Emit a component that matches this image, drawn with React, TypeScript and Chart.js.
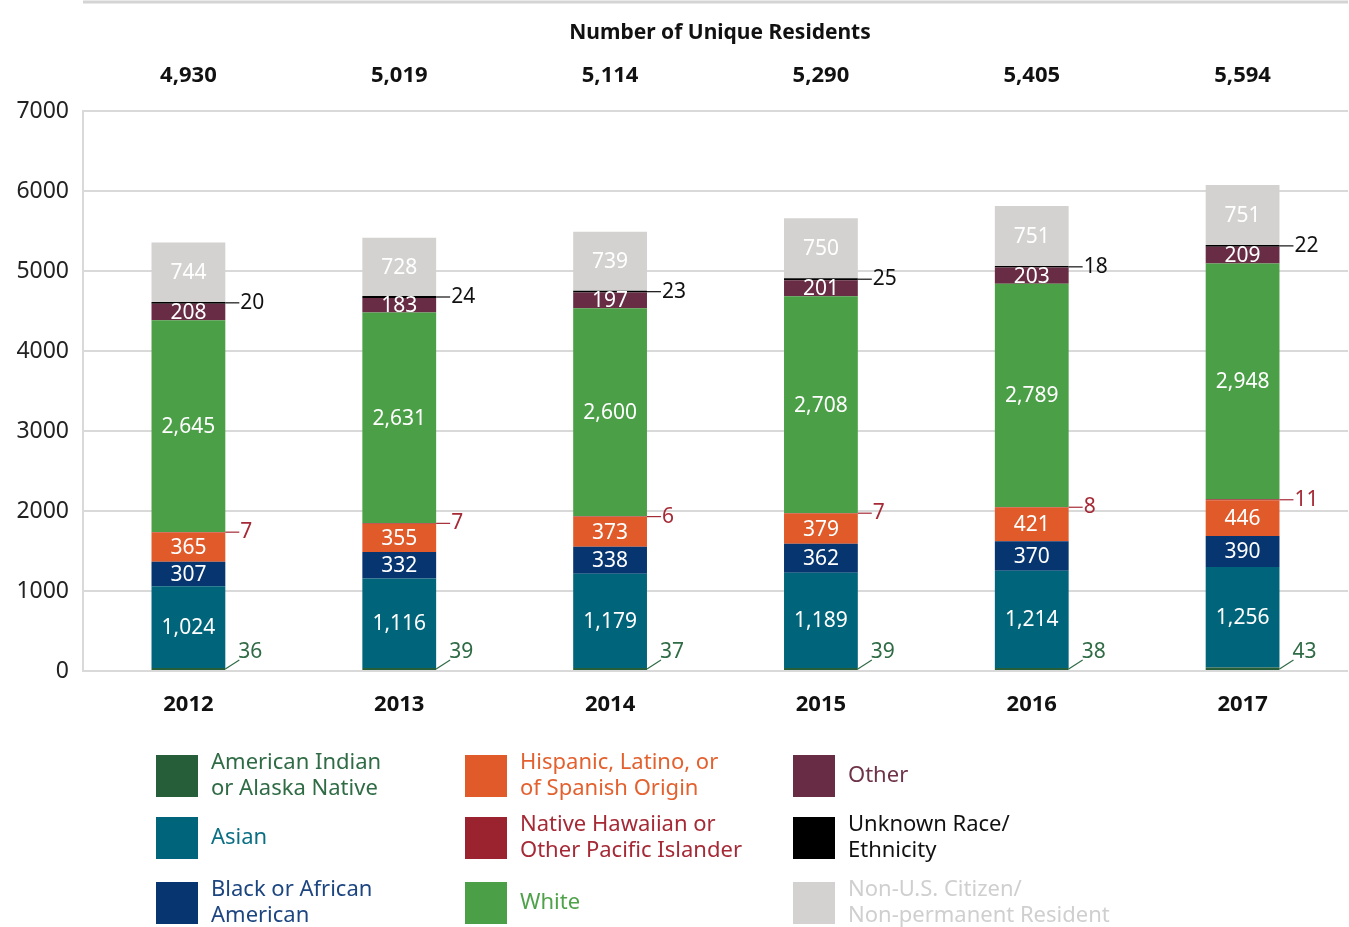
import React, { useEffect, useRef } from "react";
import { Chart, registerables } from "chart.js";
Chart.register(...registerables);

const years = ["2012", "2013", "2014", "2015", "2016", "2017"];
const totals = ["4,930", "5,019", "5,114", "5,290", "5,405", "5,594"];
const aian = [36, 39, 37, 39, 38, 43];
const asian = [1024, 1116, 1179, 1189, 1214, 1256];
const black = [307, 332, 338, 362, 370, 390];
const hispanic = [365, 355, 373, 379, 421, 446];
const nhpi = [7, 7, 6, 7, 8, 11];
const white = [2645, 2631, 2600, 2708, 2789, 2948];
const other = [208, 183, 197, 201, 203, 209];
const unknown = [20, 24, 23, 25, 18, 22];
const nonUS = [744, 728, 739, 750, 751, 751];
const title = "Number of Unique Residents";

const FONT = '"Noto Sans", sans-serif';

type Series = {
  label: string[];
  values: number[];
  color: string;
  text: string;
  mode: "inside" | "diag" | "side";
  col: number;
  row: number;
};

const series: Series[] = [
  { label: ["American Indian", "or Alaska Native"], values: aian, color: "#275e3a", text: "#2f6b45", mode: "diag", col: 0, row: 0 },
  { label: ["Asian"], values: asian, color: "#00657a", text: "#0b6f84", mode: "inside", col: 0, row: 1 },
  { label: ["Black or African", "American"], values: black, color: "#06356f", text: "#1d4680", mode: "inside", col: 0, row: 2 },
  { label: ["Hispanic, Latino, or", "of Spanish Origin"], values: hispanic, color: "#e05a2a", text: "#e2612f", mode: "inside", col: 1, row: 0 },
  { label: ["Native Hawaiian or", "Other Pacific Islander"], values: nhpi, color: "#9a232f", text: "#a52a36", mode: "side", col: 1, row: 1 },
  { label: ["White"], values: white, color: "#4b9f46", text: "#4fa24a", mode: "inside", col: 1, row: 2 },
  { label: ["Other"], values: other, color: "#682c44", text: "#6e3249", mode: "inside", col: 2, row: 0 },
  { label: ["Unknown Race/", "Ethnicity"], values: unknown, color: "#000000", text: "#111111", mode: "side", col: 2, row: 1 },
  { label: ["Non-U.S. Citizen/", "Non-permanent Resident"], values: nonUS, color: "#d3d2d0", text: "#cfcfcf", mode: "inside", col: 2, row: 2 },
];

const legendCols = [156, 465, 793];
const legendRows = [755, 817, 882];

const fmt = (v: number) => v.toLocaleString("en-US");

const overlay = {
  id: "overlay",
  beforeDraw(chart: any) {
    const ctx = chart.ctx;
    ctx.save();
    ctx.strokeStyle = "#d4d4d4";
    ctx.lineWidth = 3;
    ctx.beginPath();
    ctx.moveTo(chart.chartArea.left, 2);
    ctx.lineTo(chart.chartArea.right, 2);
    ctx.stroke();
    ctx.restore();
  },
  afterDatasetsDraw(chart: any) {
    const ctx = chart.ctx;
    ctx.save();
    ctx.textBaseline = "middle";
    series.forEach((s, di) => {
      const meta = chart.getDatasetMeta(di);
      meta.data.forEach((bar: any, i: number) => {
        const v = s.values[i];
        const right = bar.x + bar.width / 2;
        const mid = (bar.y + bar.base) / 2;
        ctx.font = `21px ${FONT}`;
        if (s.mode === "inside") {
          ctx.fillStyle = "#ffffff";
          ctx.textAlign = "center";
          ctx.fillText(fmt(v), bar.x, mid + 1);
        } else if (s.mode === "diag") {
          ctx.strokeStyle = s.text;
          ctx.lineWidth = 1.2;
          ctx.beginPath();
          ctx.moveTo(right, bar.base - 1);
          ctx.lineTo(right + 14, bar.base - 10);
          ctx.stroke();
          ctx.fillStyle = s.text;
          ctx.textAlign = "left";
          ctx.fillText(fmt(v), right + 13, bar.base - 18);
        } else {
          ctx.strokeStyle = s.text;
          ctx.lineWidth = 1.2;
          ctx.beginPath();
          ctx.moveTo(right, mid);
          ctx.lineTo(right + 14, mid);
          ctx.stroke();
          ctx.fillStyle = s.text;
          ctx.textAlign = "left";
          ctx.fillText(fmt(v), right + 15, mid);
        }
      });
    });
    ctx.restore();
  },
  afterDraw(chart: any) {
    const ctx = chart.ctx;
    ctx.save();
    ctx.textBaseline = "middle";
    ctx.textAlign = "center";
    ctx.fillStyle = "#111111";
    ctx.font = `bold 21px ${FONT}`;
    ctx.fillText(title, 720, 33);
    const xs = chart.scales.x;
    totals.forEach((t, i) => {
      ctx.font = `bold 22px ${FONT}`;
      ctx.fillText(t, xs.getPixelForValue(i), 76);
    });
    // legend
    series.forEach((s) => {
      const x = legendCols[s.col];
      const y = legendRows[s.row];
      ctx.fillStyle = s.color;
      ctx.fillRect(x, y, 42, 42);
      ctx.fillStyle = s.text;
      ctx.font = `22px ${FONT}`;
      ctx.textAlign = "left";
      const cy = y + 21;
      if (s.label.length === 1) {
        ctx.fillText(s.label[0], x + 55, cy);
      } else {
        ctx.fillText(s.label[0], x + 55, cy - 13);
        ctx.fillText(s.label[1], x + 55, cy + 13);
      }
    });
    ctx.restore();
  },
};

export default function App() {
  const ref = useRef<HTMLCanvasElement | null>(null);
  useEffect(() => {
    if (!ref.current) return;
    const chart = new Chart(ref.current, {
      type: "bar",
      data: {
        labels: years,
        datasets: series.map((s) => ({
          label: s.label.join(" "),
          data: s.values,
          backgroundColor: s.color,
          borderWidth: 0,
          barPercentage: 0.35,
          categoryPercentage: 1,
        })),
      },
      options: {
        responsive: false,
        animation: false,
        layout: { padding: { top: 111, right: 1, left: 0, bottom: 0 } },
        plugins: { legend: { display: false }, tooltip: { enabled: false } },
        scales: {
          x: {
            stacked: true,
            grid: { display: false, drawTicks: false },
            border: { display: false },
            ticks: { color: "#111111", font: { family: FONT, size: 22, weight: "bold" }, padding: 21 },
            afterFit: (scale: any) => { scale.height = 256; },
          },
          y: {
            stacked: true,
            min: 0,
            max: 7000,
            grid: { color: "#d9d9d9", lineWidth: 2, drawTicks: false },
            border: { display: true, color: "#d9d9d9", width: 2 },
            ticks: {
              stepSize: 1000,
              color: "#222222",
              font: { family: FONT, size: 23 },
              padding: 14,
              callback: (v: any) => String(v),
            },
            afterFit: (scale: any) => { scale.width = 83; },
          },
        },
      },
      plugins: [overlay],
    });
    return () => chart.destroy();
  }, []);
  return (
    <div style={{ position: "absolute", left: 0, top: 0, width: 1349, height: 927, background: "#fff" }}>
      <canvas ref={ref} width={1349} height={927} style={{ display: "block" }} />
    </div>
  );
}
